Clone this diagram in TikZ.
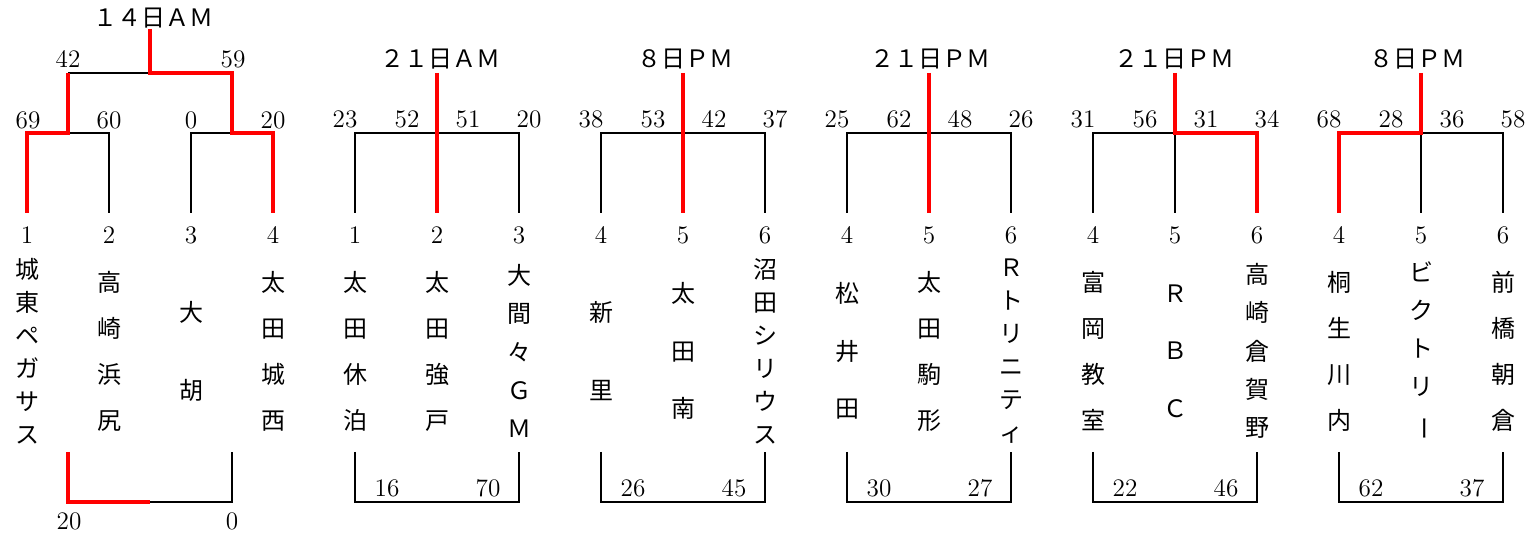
\documentclass[tikz,border=0pt]{standalone}
\usepackage{fontspec}
\usepackage{graphicx}
\newfontfamily\cjk{Noto Sans CJK JP}
\definecolor{winred}{RGB}{255,0,0}
\newcommand{\vbar}{\rotatebox[origin=c]{-90}{ー}}
\begin{document}
\begin{tikzpicture}[x=0.5pt,y=-0.5pt,
  blk/.style={draw=black,line width=1.1pt},
  win/.style={draw=winred,line width=2pt},
  num/.style={font=\fontsize{12.6}{14}\selectfont,inner sep=0pt},
  ttl/.style={font=\cjk\fontsize{12}{14}\selectfont,inner sep=0pt},
  team/.style={font=\cjk\fontsize{12}{#1}\selectfont,align=center,inner sep=0pt},
]
\useasboundingbox (0,0) rectangle (1540,533);
% grid coordinates
\foreach \i in {0,...,18} {
  \pgfmathsetmacro\xx{27+82*\i}
  \coordinate (T\i) at (\xx,133);
  \coordinate (B\i) at (\xx,213);
  \coordinate (U\i) at (\xx,452);
  \coordinate (D\i) at (\xx,502);
  \coordinate (H\i) at (\xx,73);
}
% bracket 1 specials
\coordinate (L1) at (68,73);
\coordinate (L0) at (68,133);
\coordinate (R1) at (232,73);
\coordinate (R0) at (232,133);
\coordinate (C1) at (150,73);
\coordinate (C0) at (150,29);
\coordinate (LU) at (68,452);
\coordinate (LD) at (68,502);
\coordinate (RU) at (232,452);
\coordinate (RD) at (232,502);
\coordinate (CD) at (150,502);

% ---------- black lines ----------
\draw[blk] (L1) -- (C1);
\draw[blk] (B1) -- (T1) -- (L0);
\draw[blk] (B2) -- (T2) -- (R0);
\draw[blk] (CD) -- (RD) -- (RU);
\draw[blk] (B4) -- (T4) -- (T6) -- (B6);
\draw[blk] (B7) -- (T7) -- (T9) -- (B9);
\draw[blk] (B10) -- (T10) -- (T12) -- (B12);
\draw[blk] (B13) -- (T13) -- (T14);
\draw[blk] (T14) -- (B14);
\draw[blk] (T17) -- (T18) -- (B18);
\draw[blk] (T17) -- (B17);
\draw[blk] (U4) -- (D4) -- (D6) -- (U6);
\draw[blk] (U7) -- (D7) -- (D9) -- (U9);
\draw[blk] (U10) -- (D10) -- (D12) -- (U12);
\draw[blk] (U13) -- (D13) -- (D15) -- (U15);
\draw[blk] (U16) -- (D16) -- (D18) -- (U18);

% ---------- red lines ----------
\draw[win] (B0) -- (T0) -- (L0) -- (L1);
\draw[win] (C0) -- (C1) -- (R1) -- (R0) -- (T3) -- (B3);
\draw[win] (LU) -- (LD) -- (CD);
\draw[win] (H5) -- (B5);
\draw[win] (H8) -- (B8);
\draw[win] (H11) -- (B11);
\draw[win] (H14) -- (T14) -- (T15) -- (B15);
\draw[win] (H17) -- (T17) -- (T16) -- (B16);

% ---------- titles ----------
\node[ttl] (t1) at (153,18) {１４日ＡＭ};
\node[ttl] (t2) at (440,59) {２１日ＡＭ};
\node[ttl] (t3) at (685,59) {８日ＰＭ};
\node[ttl] (t4) at (930,59) {２１日ＰＭ};
\node[ttl] (t5) at (1174,59) {２１日ＰＭ};
\node[ttl] (t6) at (1417,59) {８日ＰＭ};

% ---------- bracket 1 scores ----------
\node[num] (s42) at (68,59) {42};
\node[num] (s59) at (233,59) {59};
\node[num] (s69) at (28,120) {69};
\node[num] (s60) at (109,120) {60};
\node[num] (s0a) at (191,120) {0};
\node[num] (s20a) at (273,120) {20};
\node[num] (f20) at (69,521) {20};
\node[num] (f0) at (232,521) {0};

% ---------- brackets 2-6 top scores ----------
\node[num] (a1) at (345,119) {23};
\node[num] (a2) at (407,119) {52};
\node[num] (a3) at (468,119) {51};
\node[num] (a4) at (529,119) {20};
\node[num] (b1) at (591,119) {38};
\node[num] (b2) at (653,119) {53};
\node[num] (b3) at (714,119) {42};
\node[num] (b4) at (775,119) {37};
\node[num] (c1) at (837,119) {25};
\node[num] (c2) at (899,119) {62};
\node[num] (c3) at (960,119) {48};
\node[num] (c4) at (1021,119) {26};
\node[num] (d1) at (1083,119) {31};
\node[num] (d2) at (1145,119) {56};
\node[num] (d3) at (1206,119) {31};
\node[num] (d4) at (1267,119) {34};
\node[num] (e1) at (1329,119) {68};
\node[num] (e2) at (1391,119) {28};
\node[num] (e3) at (1452,119) {36};
\node[num] (e4) at (1513,119) {58};

% ---------- bottom scores ----------
\node[num] (ab1) at (387,488) {16};
\node[num] (ab2) at (488,488) {70};
\node[num] (bb1) at (633,488) {26};
\node[num] (bb2) at (734,488) {45};
\node[num] (cb1) at (879,488) {30};
\node[num] (cb2) at (980,488) {27};
\node[num] (db1) at (1125,488) {22};
\node[num] (db2) at (1226,488) {46};
\node[num] (eb1) at (1371,488) {62};
\node[num] (eb2) at (1472,488) {37};

% ---------- seed numbers ----------
\node[num] (n0) at (27,235) {1};
\node[num] (n1) at (109,235) {2};
\node[num] (n2) at (191,235) {3};
\node[num] (n3) at (273,235) {4};
\node[num] (n4) at (355,235) {1};
\node[num] (n5) at (437,235) {2};
\node[num] (n6) at (519,235) {3};
\node[num] (n7) at (601,235) {4};
\node[num] (n8) at (683,235) {5};
\node[num] (n9) at (765,235) {6};
\node[num] (n10) at (847,235) {4};
\node[num] (n11) at (929,235) {5};
\node[num] (n12) at (1011,235) {6};
\node[num] (n13) at (1093,235) {4};
\node[num] (n14) at (1175,235) {5};
\node[num] (n15) at (1257,235) {6};
\node[num] (n16) at (1339,235) {4};
\node[num] (n17) at (1421,235) {5};
\node[num] (n18) at (1503,235) {6};

% ---------- team names ----------
\node[team=16.5] (m0) at (27,351) {城\\東\\ペ\\ガ\\サ\\ス};
\node[team=23] (m1) at (109,351) {高\\崎\\浜\\尻};
\node[team=39] (m2) at (191,351) {大\\胡};
\node[team=23] (m3) at (273,351) {太\\田\\城\\西};
\node[team=23] (m4) at (355,351) {太\\田\\休\\泊};
\node[team=23] (m5) at (437,351) {太\\田\\強\\戸};
\node[team=19.1] (m6) at (519,351) {大\\間\\々\\Ｇ\\Ｍ};
\node[team=39] (m7) at (601,351) {新\\里};
\node[team=28.75] (m8) at (683,351) {太\\田\\南};
\node[team=16.5] (m9) at (765,351) {沼\\田\\シ\\リ\\ウ\\ス};
\node[team=28.75] (m10) at (847,351) {松\\井\\田};
\node[team=23] (m11) at (929,351) {太\\田\\駒\\形};
\node[team=16.5] (m12) at (1011,351) {Ｒ\\ト\\リ\\ニ\\テ\\ィ};
\node[team=23] (m13) at (1093,351) {富\\岡\\教\\室};
\node[team=28.75] (m14) at (1175,351) {Ｒ\\Ｂ\\Ｃ};
\node[team=19.1] (m15) at (1257,351) {高\\崎\\倉\\賀\\野};
\node[team=23] (m16) at (1339,351) {桐\\生\\川\\内};
\node[team=19.1] (m17) at (1421,351) {ビ\\ク\\ト\\リ\\\vbar};
\node[team=23] (m18) at (1503,351) {前\\橋\\朝\\倉};
\end{tikzpicture}
\end{document}
